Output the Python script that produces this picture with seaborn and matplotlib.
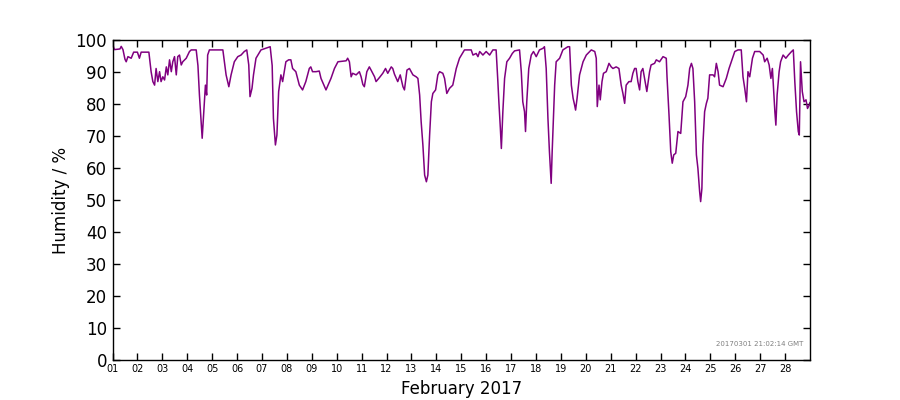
import pandas as pd
import matplotlib
matplotlib.use("Agg")
import matplotlib.pyplot as plt
import matplotlib.dates as mdates
import seaborn as sns

# day of month (fractional) and relative humidity readings
DAYS = [
    1.00, 1.03, 1.08, 1.30, 1.35, 1.42, 1.50, 1.55, 1.62, 1.75, 1.85, 2.00, 2.08, 2.15, 2.46,
    2.55, 2.62, 2.69, 2.75, 2.82, 2.89, 2.95, 3.02, 3.09, 3.16, 3.22, 3.29, 3.36, 3.42, 3.49,
    3.56, 3.62, 3.69, 3.76, 3.82, 3.96, 4.09, 4.16, 4.36,
    4.43, 4.49, 4.56, 4.60, 4.65, 4.73, 4.78, 4.82, 4.89, 5.43,
    5.56, 5.67, 5.76, 5.89, 6.03, 6.16, 6.29, 6.39, 6.47, 6.52, 6.60, 6.66, 6.76, 6.96, 7.33,
    7.41, 7.46, 7.54, 7.60, 7.67, 7.76, 7.83, 7.96, 8.07, 8.16, 8.23, 8.36, 8.50, 8.63, 8.76,
    8.90, 8.96, 9.03, 9.17, 9.30, 9.37, 9.57, 9.77, 9.91, 10.05,
    10.38, 10.44, 10.51, 10.58, 10.64, 10.78, 10.91, 10.98, 11.05, 11.11, 11.21, 11.31, 11.38,
    11.52, 11.58, 11.72, 11.85, 11.96, 12.05, 12.19, 12.25, 12.32, 12.45, 12.55, 12.66, 12.72,
    12.82, 12.92, 13.06, 13.19, 13.26, 13.33, 13.39, 13.46, 13.53, 13.60, 13.66, 13.73, 13.80,
    13.86, 13.97, 14.06, 14.13, 14.26, 14.33, 14.42, 14.53, 14.66, 14.80, 14.93, 15.13, 15.40,
    15.47, 15.60, 15.67, 15.74, 15.87, 16.00, 16.14, 16.27, 16.40,
    16.47, 16.51, 16.57, 16.61, 16.67, 16.74, 16.83, 16.94, 17.05, 17.14, 17.34,
    17.41, 17.47, 17.54, 17.58, 17.63, 17.71, 17.81, 17.90, 18.01, 18.14, 18.28, 18.34,
    18.41, 18.48, 18.54, 18.61, 18.65, 18.75, 18.81, 18.95, 19.08, 19.28,
    19.35, 19.42, 19.49, 19.55, 19.59, 19.65, 19.75, 19.89, 20.02, 20.16, 20.22, 20.36, 20.42,
    20.46, 20.53, 20.58, 20.65, 20.71, 20.82, 20.93, 21.02, 21.09, 21.22, 21.33, 21.42, 21.49,
    21.56, 21.62, 21.73, 21.82, 21.89, 21.96, 22.02, 22.09, 22.16, 22.22, 22.29, 22.36, 22.45,
    22.56, 22.62, 22.76, 22.83, 22.96, 23.10, 23.23,
    23.26, 23.34, 23.41, 23.47, 23.53, 23.61, 23.70, 23.81, 23.90, 24.01, 24.10, 24.17, 24.24,
    24.30, 24.37, 24.44, 24.50, 24.57, 24.61, 24.66, 24.70, 24.77, 24.84, 24.90, 24.97, 25.11,
    25.17, 25.24, 25.31, 25.37, 25.51, 25.64, 25.75, 25.84, 25.98, 26.11, 26.24,
    26.31, 26.38, 26.45, 26.51, 26.58, 26.69, 26.78, 26.98, 27.12, 27.18, 27.28, 27.36, 27.43,
    27.49, 27.55, 27.59, 27.63, 27.68, 27.76, 27.82, 27.92, 28.03, 28.13, 28.26, 28.33,
    28.39, 28.46, 28.53, 28.57, 28.62, 28.69, 28.76, 28.84, 28.90, 28.97, 29.00,
]
HUMIDITY = [
    97.5, 98.0, 97.0, 97.2, 98.0, 97.0, 94.0, 93.2, 94.8, 94.3, 96.2, 96.2, 94.3, 96.2, 96.2,
    90.1, 87.0, 85.9, 91.1, 87.0, 90.1, 87.0, 88.5, 87.5, 91.6, 89.1, 93.8, 90.1, 93.2, 94.8,
    89.1, 94.8, 95.3, 92.2, 93.2, 94.3, 96.4, 96.9, 96.9,
    92.0, 82.8, 74.5, 69.3, 75.5, 85.9, 82.8, 95.3, 96.9, 96.9,
    89.1, 85.4, 89.1, 93.2, 94.8, 95.3, 96.4, 96.9, 92.2, 82.3, 84.9, 89.1, 94.3, 96.9, 97.9,
    92.0, 75.5, 67.2, 70.3, 83.9, 89.1, 87.0, 93.2, 93.8, 93.8, 91.1, 90.1, 85.9, 84.4, 87.0,
    91.1, 91.6, 90.1, 90.1, 90.3, 88.0, 84.4, 88.0, 91.1, 93.2,
    93.5, 94.3, 93.2, 88.5, 89.6, 89.1, 90.1, 88.5, 86.1, 85.4, 90.1, 91.6, 90.6,
    88.5, 87.0, 88.3, 89.6, 91.1, 89.6, 91.6, 91.1, 89.3, 87.0, 89.1, 85.4, 84.4,
    90.6, 91.1, 89.1, 88.5, 88.0, 82.8, 74.5, 67.2, 57.8, 55.7, 57.8, 70.3, 80.7,
    83.3, 84.4, 89.1, 90.1, 89.6, 88.0, 83.3, 84.9, 85.9, 91.1, 94.3, 96.9, 96.9,
    95.3, 95.8, 94.8, 96.4, 95.3, 96.4, 95.3, 96.9, 96.9,
    87.0, 80.7, 72.4, 66.1, 77.6, 88.0, 93.2, 94.3, 95.8, 96.6, 96.9,
    90.1, 80.7, 77.6, 71.4, 80.7, 91.1, 95.3, 96.4, 94.8, 96.9, 97.4, 97.9,
    91.1, 75.5, 65.1, 55.2, 65.1, 85.9, 93.2, 94.3, 96.9, 97.9,
    97.9, 85.9, 81.8, 79.7, 78.1, 81.8, 89.1, 93.2, 95.3, 96.4, 96.9, 96.4, 94.3,
    79.2, 85.9, 81.3, 87.0, 89.6, 90.1, 92.7, 91.6, 91.1, 91.6, 91.1, 85.9, 83.3,
    80.2, 85.9, 87.0, 87.0, 89.6, 91.1, 91.1, 87.0, 84.4, 90.1, 91.1, 88.0, 83.9,
    90.1, 92.2, 92.7, 93.8, 93.2, 94.8, 94.3,
    88.5, 76.6, 65.1, 61.5, 64.1, 64.6, 71.4, 70.8, 80.7, 82.3, 85.9, 91.1, 92.7,
    91.1, 80.7, 64.1, 59.9, 52.6, 49.5, 53.6, 67.2, 77.6, 80.2, 81.8, 89.1, 89.1,
    88.5, 92.7, 90.1, 85.9, 85.4, 88.0, 91.1, 93.2, 96.4, 96.9, 96.9,
    88.5, 84.9, 80.7, 90.1, 88.5, 94.3, 96.4, 96.4, 95.3, 93.2, 94.3, 92.2, 88.0,
    91.1, 82.8, 77.6, 73.4, 82.8, 90.1, 93.2, 95.3, 94.3, 95.3, 96.4, 96.9,
    87.0, 77.6, 71.4, 70.3, 93.2, 83.9, 80.7, 81.3, 78.6, 79.7, 80.5,
]
Y_TICKS = list(range(0, 101, 10))
STAMP = "20170301 21:02:14 GMT"

sns.set_style("white")
plt.rcParams['font.family'] = ['DejaVu Sans']
plt.rcParams['xtick.direction'] = 'in'
plt.rcParams['ytick.direction'] = 'in'
plt.rcParams['text.color'] = 'black'
plt.rcParams['axes.labelcolor'] = 'black'
plt.rcParams['xtick.color'] = 'black'
plt.rcParams['ytick.color'] = 'black'

start = pd.Timestamp("2017-02-01")
df = pd.DataFrame({
    "time": start + pd.to_timedelta([d - 1 for d in DAYS], unit="D"),
    "humidity": HUMIDITY,
})
day_ticks = pd.date_range(start, "2017-02-28", freq="D")

fig = plt.figure(figsize=(9, 4), dpi=100)
ax = fig.add_axes([0.125, 0.1, 0.775, 0.8])
sns.lineplot(data=df, x="time", y="humidity", color="purple", linewidth=1.1, ax=ax)

ax.set_xlim(start, pd.Timestamp("2017-03-01"))
ax.set_ylim(0, 100)
ax.set_yticks(Y_TICKS)
ax.set_xticks(day_ticks)
ax.xaxis.set_major_formatter(mdates.DateFormatter("%d"))
ax.tick_params(axis="x", labelsize=7, top=True, bottom=True, length=5, width=1, pad=3)
ax.tick_params(axis="y", labelsize=12, left=True, right=True, length=5, width=1, pad=4)

for s in ax.spines.values():
    s.set_color("black")
    s.set_linewidth(1.0)

ax.set_xlabel("February 2017", fontsize=12)
ax.set_ylabel("Humidity / %", fontsize=12)
ax.text(0.99, 0.04, STAMP, transform=ax.transAxes, ha="right", va="bottom",
        fontsize=5, color="gray")

fig.savefig("out.png", dpi=100)
